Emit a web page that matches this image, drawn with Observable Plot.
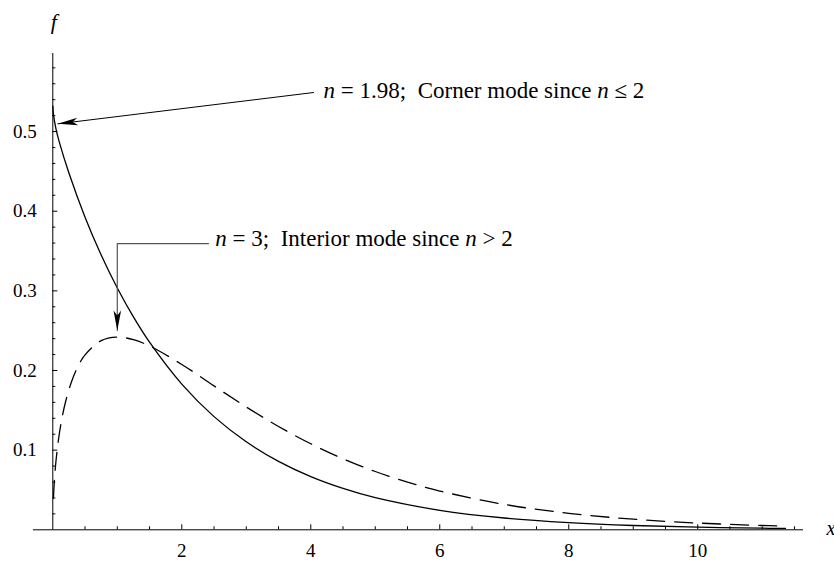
<!DOCTYPE html>
<html>
<head>
<meta charset="utf-8">
<script src="https://cdn.jsdelivr.net/npm/d3@7"></script>
<script src="https://cdn.jsdelivr.net/npm/@observablehq/plot@0.6"></script>
<style>
  html, body { margin: 0; padding: 0; background: #fff; }
</style>
</head>
<body>
<div id="chart"></div>
<script>
// Density f(x) for n = 1.98 (solid) — corner mode at x = 0
const xCorner = [0.001, 0.01, 0.05, 0.1, 0.25, 0.5, 0.75, 1, 1.25, 1.5, 2, 2.5, 3, 3.5, 4, 4.5, 5, 6, 7, 8, 9, 10, 11, 11.36];
const fCorner = [0.532, 0.5215, 0.503, 0.487, 0.448, 0.3925, 0.345, 0.3036, 0.2673, 0.2355, 0.1829, 0.1421, 0.1105, 0.0859, 0.0668, 0.052, 0.0404, 0.0245, 0.0148, 0.009, 0.0054, 0.0033, 0.002, 0.0017];

// Density f(x) for n = 3 (dashed) — interior mode at x = 1
const xInterior = [0.01, 0.02, 0.05, 0.1, 0.15, 0.2, 0.3, 0.4, 0.5, 0.75, 1, 1.25, 1.5, 2, 2.5, 3, 3.5, 4, 4.5, 5, 5.5, 6, 7, 8, 9, 10, 11, 11.36];
const fInterior = [0.0397, 0.0558, 0.087, 0.12, 0.1433, 0.1614, 0.1881, 0.2066, 0.2197, 0.2375, 0.242, 0.2387, 0.2308, 0.2076, 0.1807, 0.1542, 0.1297, 0.108, 0.0892, 0.0732, 0.0598, 0.0487, 0.0319, 0.0207, 0.0133, 0.0085, 0.0054, 0.0046];

// Tick values
const xMajorTicks = [2, 4, 6, 8, 10];
const xMinorTicks = [0.5, 1, 1.5, 2.5, 3, 3.5, 4.5, 5, 5.5, 6.5, 7, 7.5, 8.5, 9, 9.5, 10.5, 11, 11.5];
const yMajorTicks = [0.1, 0.2, 0.3, 0.4, 0.5];
const yMinorTicks = [0.02, 0.04, 0.06, 0.08, 0.12, 0.14, 0.16, 0.18, 0.22, 0.24, 0.26, 0.28, 0.32, 0.34, 0.36, 0.38, 0.42, 0.44, 0.46, 0.48, 0.52, 0.54, 0.56, 0.58];
const yTickLabels = ["0.1", "0.2", "0.3", "0.4", "0.5"];

// Annotations: label text, where it sits, and the arrow path (tail → tip)
const noteLabels = ["n = 1.98; \u00a0Corner mode since n \u2264 2", "n = 3; \u00a0Interior mode since n > 2"];
const noteX = [4.198, 2.52];
const noteY = [0.552, 0.365];
const arrowCornerX = [4.043, 0.078];
const arrowCornerY = [0.549, 0.5097];
const arrowInteriorX = [2.414, 1.0, 1.0];
const arrowInteriorY = [0.3594, 0.3594, 0.2502];

// Axis titles
const yTitle = "f";
const xTitle = "x";

// Layout
const W = 834, H = 561;
const mL = 52.3, mR = 31, mT = 53, mB = 31.7;
const xDomain = [0, 11.64];
const yDomain = [0, 0.598];
const kx = (W - mL - mR) / (xDomain[1] - xDomain[0]);
const ky = (H - mT - mB) / (yDomain[1] - yDomain[0]);

const corner = xCorner.map((x, i) => ({x, f: fCorner[i]}));
const interior = xInterior.map((x, i) => ({x, f: fInterior[i]}));
const notes = noteLabels.map((label, i) => ({label, x: noteX[i], y: noteY[i]}));

const arrowPaths = [
  arrowCornerX.map((x, i) => ({id: "corner", x, y: arrowCornerY[i]})),
  arrowInteriorX.map((x, i) => ({id: "interior", x, y: arrowInteriorY[i]}))
];

// heading of the last segment of a path, in screen degrees
function heading(path) {
  const p = path[path.length - 2], q = path[path.length - 1];
  return Math.atan2(-(q.y - p.y) * ky, (q.x - p.x) * kx) * 180 / Math.PI;
}
const heads = arrowPaths.map(path => ({...path[path.length - 1], angle: heading(path)}));

// notched arrowhead with its tip at the origin, pointing along +x
const arrowHead = {
  draw(context) {
    context.moveTo(0, 0);
    context.lineTo(-20, -3.8);
    context.lineTo(-15, 0);
    context.lineTo(-20, 3.8);
    context.closePath();
  }
};

const serif = "'Liberation Serif', 'Times New Roman', serif";
const yLabel = d => yTickLabels[yMajorTicks.indexOf(d)];

const chart = Plot.plot({
  width: W,
  height: H,
  marginLeft: mL,
  marginRight: mR,
  marginTop: mT,
  marginBottom: mB,
  style: {fontFamily: serif, fontSize: "19px", background: "#fff", color: "#000"},
  x: {domain: xDomain},
  y: {domain: yDomain},
  marks: [
    // axis lines
    Plot.ruleY([0], {x1: -0.3, x2: xDomain[1], stroke: "#000", strokeWidth: 1}),
    Plot.ruleX([0], {y1: 0, y2: yDomain[1], stroke: "#000", strokeWidth: 1}),
    // inward ticks
    Plot.axisX(xMinorTicks, {anchor: "bottom", tickSize: 3, dy: -3, tickFormat: () => "", label: null}),
    Plot.axisX(xMajorTicks, {anchor: "bottom", tickSize: 5, dy: -5, tickFormat: () => "", label: null}),
    Plot.axisY(yMinorTicks, {anchor: "left", tickSize: 3, dx: 3, tickFormat: () => "", label: null}),
    Plot.axisY(yMajorTicks, {anchor: "left", tickSize: 5, dx: 5, tickFormat: () => "", label: null}),
    // tick labels
    Plot.axisX(xMajorTicks, {anchor: "bottom", tickSize: 0, tickPadding: 14, tickFormat: d => String(d), label: null, fontFamily: serif}),
    Plot.axisY(yMajorTicks, {anchor: "left", tickSize: 0, tickPadding: 16, tickFormat: yLabel, label: null, fontFamily: serif}),
    // curves
    Plot.line(corner, {x: "x", y: "f", curve: "catmull-rom", stroke: "#000", strokeWidth: 1.3}),
    Plot.line(interior, {x: "x", y: "f", curve: "catmull-rom", stroke: "#000", strokeWidth: 1.3, strokeDasharray: "18,10"}),
    // arrows
    Plot.line(arrowPaths[0], {x: "x", y: "y", stroke: "#000", strokeWidth: 1}),
    Plot.line(arrowPaths[1], {x: "x", y: "y", stroke: "#555", strokeWidth: 1.2}),
    Plot.dot(heads, {x: "x", y: "y", rotate: "angle", symbol: arrowHead, fill: "#000", stroke: "none"}),
    // annotation labels
    Plot.text(notes, {x: "x", y: "y", text: "label", textAnchor: "start", lineAnchor: "middle", fontSize: 23, fontFamily: serif, fill: "#000"}),
    // axis titles
    Plot.text([yTitle], {x: 0, y: yDomain[1], text: d => d, textAnchor: "middle", lineAnchor: "middle", dy: -32, dx: 1, fontSize: 22, fontStyle: "italic", fontFamily: serif, fill: "#000"}),
    Plot.text([xTitle], {x: xDomain[1], y: 0, text: d => d, textAnchor: "start", lineAnchor: "middle", dx: 23, dy: -1, fontSize: 20, fontStyle: "italic", fontFamily: serif, fill: "#000"})
  ]
});

// italicize the variable n inside the annotation labels
chart.querySelectorAll("text").forEach(t => {
  if (!noteLabels.includes(t.textContent)) return;
  const parts = t.textContent.split(/(\bn\b)/);
  t.textContent = "";
  for (const part of parts) {
    if (!part) continue;
    const span = document.createElementNS("http://www.w3.org/2000/svg", "tspan");
    span.textContent = part;
    if (part === "n") span.setAttribute("font-style", "italic");
    t.appendChild(span);
  }
});

document.getElementById("chart").appendChild(chart);
</script>
</body>
</html>
